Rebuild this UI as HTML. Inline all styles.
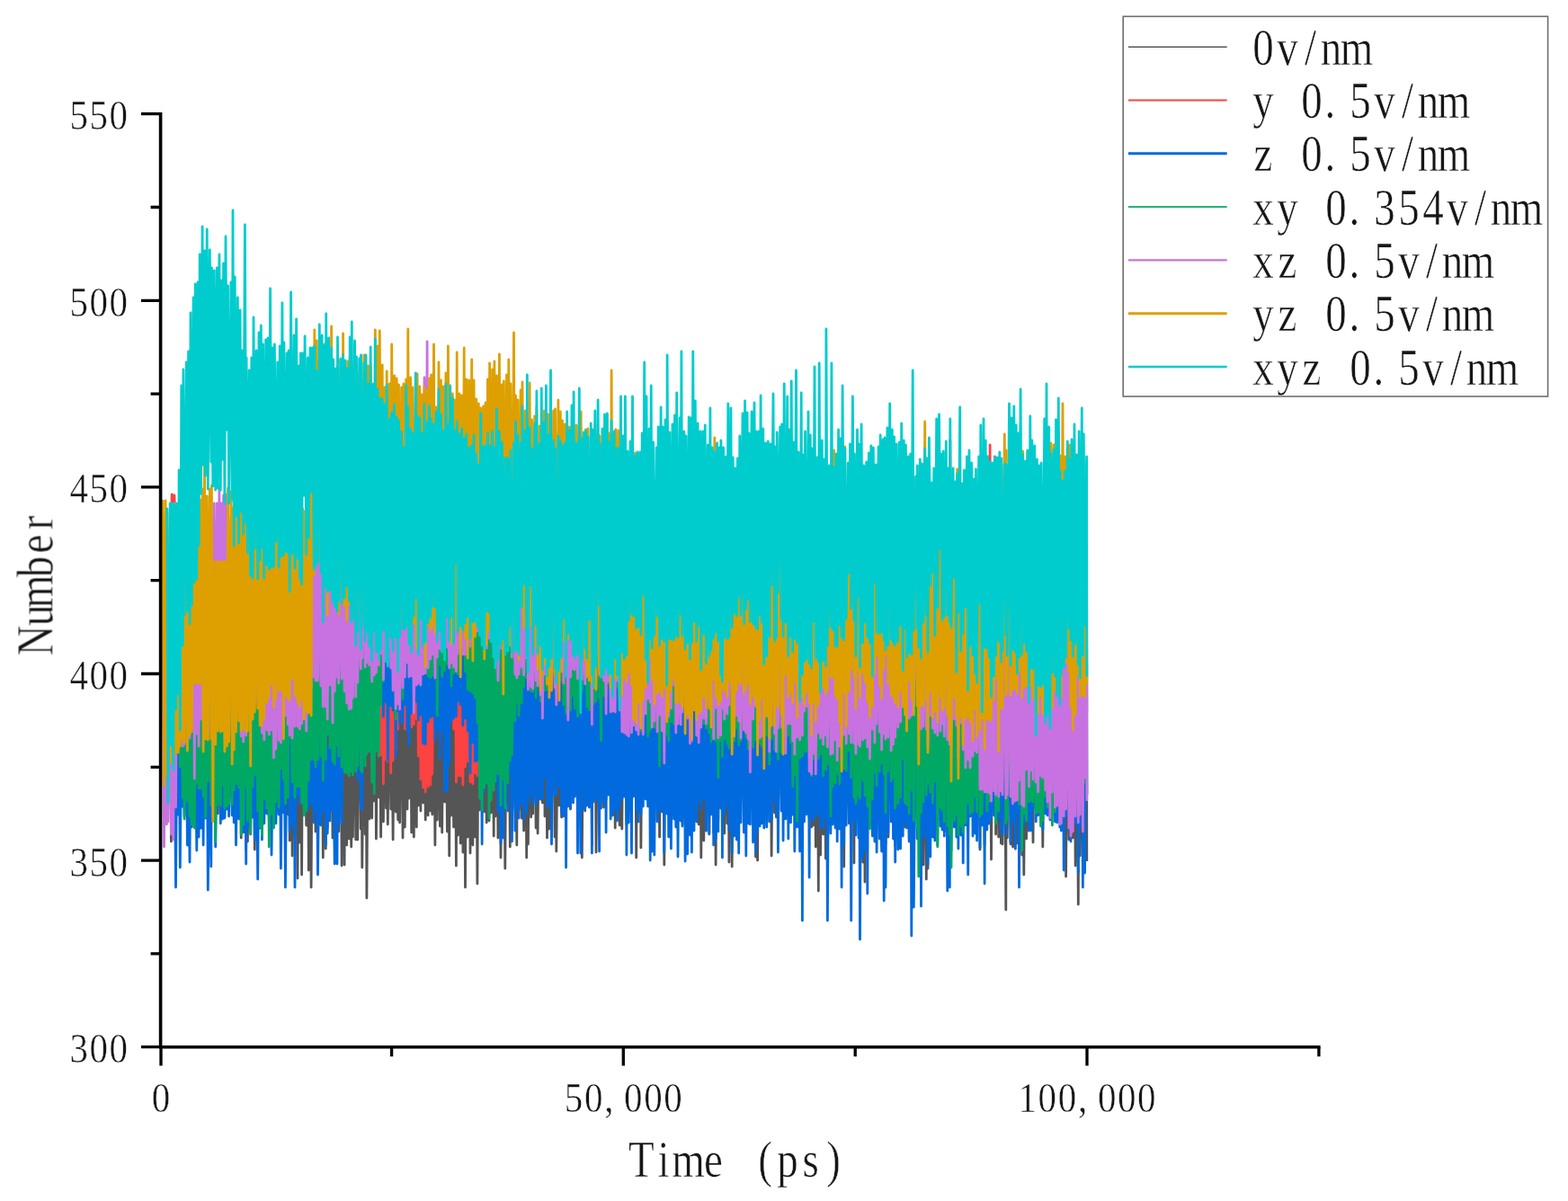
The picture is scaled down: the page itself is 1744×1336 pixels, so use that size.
<!DOCTYPE html>
<html lang="en">
<head>
<meta charset="utf-8">
<title>Number vs Time (ps)</title>
<style>
html,body{margin:0;padding:0;background:#fff;}
body{width:1744px;height:1336px;overflow:hidden;}
svg{display:block;}
text{font-family:"Liberation Serif","Noto Serif CJK SC",serif;fill:#161616;white-space:pre;stroke:#fff;stroke-width:0.45px;paint-order:fill stroke;}
</style>
</head>
<body>
<svg width="1744" height="1336" viewBox="0 0 1744 1336">
<defs><filter id="soft" x="170" y="200" width="1050" height="880" filterUnits="userSpaceOnUse"><feGaussianBlur stdDeviation="0.65"/></filter><filter id="soft2" x="0" y="0" width="1744" height="1336" filterUnits="userSpaceOnUse"><feGaussianBlur stdDeviation="0.55"/></filter></defs>
<rect width="1744" height="1336" fill="#fff"/>
<g id="series" fill="none" stroke-width="2.8" stroke-linejoin="round" stroke-linecap="butt" filter="url(#soft)">
<path stroke="#555555" d="M189.2 737L190.4 936L191.2 738L192.8 910L193.9 738L195.5 906L196.9 715L198.3 895L199.1 729L200.3 888L201.8 739L203.3 882L203.9 731L205.1 878L207.3 721L208.4 877L209.6 734L211 885L212 726L213.3 877L215.1 727L216.3 920L217.2 730L218.8 877L220 731L221.1 878L222.2 735L223.6 885L225.1 737L226.1 884L227.5 742L228.6 879L230.2 727L231.3 873L233.3 746L234.8 912L235.4 749L236.8 887L238.2 756L239.7 900L241.3 748L242.3 905L243.9 740L245.3 889L246.2 729L247.5 884L248.6 730L249.9 908L251 745L252.4 896L253.5 757L254.6 892L256.9 742L258.2 897L259 740L260.2 870L261.2 739L262.5 882L264.3 730L265.6 888L267.1 732L268.2 932L269.5 728L270.7 871L272.4 746L273.7 945L274.1 740L275.4 936L277.2 742L278.7 879L279.8 724L281.1 892L282 748L283.3 945L285.1 728L286.7 887L288 730L289.1 883L290.3 734L291.4 867L292.6 740L293.8 853L295.7 751L296.8 869L298 744L299.3 863L300.6 742L302 870L303.5 737L304.5 889L305.4 740L306.9 884L308.7 745L310.1 887L311.2 742L312.4 873L313.9 742L315.4 864L315.9 728L317.4 873L319.1 744L320.2 906L321.1 741L322.2 935L323.6 748L325.1 952L327 745L328 930L329.6 748L331 977L332.2 733L333.4 937L334.4 744L335.6 973L336.8 743L338.1 895L339.1 736L340.7 918L342.3 740L343.3 968L345 737L346.1 987L347.7 737L349.2 911L349.8 723L351 925L352.3 743L353.5 918L355.3 749L356.9 917L358.1 744L359.3 954L360.9 741L362.3 944L362.7 743L364.2 921L365.6 739L367 903L368.6 719L370 932L370.7 730L372.2 930L373.5 738L375 917L375.5 749L376.7 925L378.8 738L380.1 963L381.6 746L383.1 962L384.1 747L385.7 940L386.8 740L388.3 933L389.2 746L390.7 942L391.3 748L392.4 931L394.5 746L395.7 934L396.5 736L397.8 934L399.7 733L401.3 922L401.6 735L402.8 965L404.9 734L406.1 928L406.9 729L407.9 999L409.7 736L410.8 911L412.2 738L413.7 910L415.2 739L416.2 891L417.3 733L418.4 933L420.1 739L421.3 887L422.3 751L423.6 931L425.2 748L426.4 914L427.9 738L429.5 899L430.2 739L431.3 917L433.3 741L434.7 900L435.7 741L437.1 934L438.6 736L440.2 903L441.2 740L442.7 912L443.5 739L444.6 915L446.6 729L448 932L448.9 741L450.3 920L451.7 747L453 900L453.8 743L454.9 888L456.6 728L457.7 926L458.9 734L460.3 931L462.3 739L463.3 920L464.1 729L465.3 896L466.8 736L467.9 902L469.2 739L470.6 893L472 738L473.2 912L475.1 735L476.1 907L477.6 737L478.8 902L479.6 736L480.8 906L482.5 735L483.9 940L485.1 738L486.3 912L488 736L489.4 919L490.4 730L491.7 926L493.1 728L494.6 892L495.9 731L497.4 925L498.4 740L499.7 952L500.7 741L502 907L503.3 742L504.6 920L505.9 735L507.4 963L508.2 744L509.3 929L510.9 742L512.2 938L513.6 737L514.9 948L516.2 738L517.5 987L518.8 735L520.2 931L521.7 730L523 949L524.7 738L525.9 940L527.1 743L528.5 931L529.7 746L530.9 983L532.3 752L533.6 901L534.7 740L536.1 896L537.6 732L538.7 903L540 732L541.2 915L542.4 735L544 913L544.6 730L546.2 904L547.6 739L549.2 930L549.9 745L550.9 908L552.4 738L553.9 932L555.4 735L557 954L558.3 737L559.8 910L560.4 739L561.8 966L563.5 745L564.9 892L565.8 742L567.3 942L568 738L569.4 904L571.5 749L572.9 899L573.5 742L574.8 940L576 729L577.1 901L579.1 742L580.2 910L581 745L582.6 924L584.2 735L585.7 954L586.3 737L587.4 939L589.1 726L590.6 909L591.5 732L592.7 905L594.7 737L596.1 921L596.9 731L598.1 927L600.1 739L601.2 889L602.3 745L603.4 893L605 752L606 908L607.4 745L608.5 932L609.8 747L610.9 922L612.5 748L613.5 907L615.6 730L617.1 931L617.5 742L618.8 947L620.9 742L622 896L623.3 747L624.6 909L625.5 744L626.8 900L628.3 739L629.6 890L630.7 735L631.8 897L633.3 733L634.5 900L636 729L637.5 877L638.1 730L639.3 876L641.2 730L642.5 872L644.3 731L645.8 887L646.2 739L647.3 954L649.2 731L650.7 902L651.5 734L652.8 871L653.9 737L655.4 884L657.2 733L658.4 940L658.9 730L660.2 889L661.8 733L663 948L665.1 735L666.6 882L667 730L668.5 887L670.1 729L671.5 898L672.5 732L674.1 889L675.3 742L676.7 876L677.7 748L679.2 880L680.1 741L681.6 891L683.1 744L684.2 921L684.9 743L686.5 883L687.9 747L689.2 918L690.5 737L691.8 922L693.2 746L694.3 873L695.4 743L696.9 917L698.1 736L699.3 844L701.1 743L702.5 894L703.5 748L704.6 859L706.5 744L707.7 954L708.9 727L710.1 884L711.8 747L712.9 943L714.2 746L715.3 860L716.7 738L718.2 862L719 736L720.6 877L722.1 743L723.2 876L724.2 746L725.2 916L726.6 747L727.8 902L730.1 741L731.1 866L732.2 738L733.6 931L735.1 731L736.3 866L737.4 738L738.8 962L740.1 744L741.7 894L742.1 727L743.7 879L744.9 739L746.4 897L748 737L749.5 906L750.5 709L751.8 887L752.7 720L754 888L756.1 734L757.1 895L757.9 730L758.9 909L760.8 729L762.1 917L763 722L764.6 909L766.2 737L767.5 920L768.4 734L769.4 922L770.8 731L772 914L773.3 738L774.8 914L776.1 743L777.2 917L778.7 736L779.8 954L781.6 737L782.8 935L784.2 737L785.5 924L787.3 738L788.8 928L789.9 740L791 900L792.3 740L793.7 926L794.8 739L796.1 962L797.5 740L798.8 912L800.2 734L801.6 887L801.9 741L803.4 891L804.6 737L805.7 927L807.5 727L808.8 916L809.8 720L810.9 959L812.9 731L814.2 964L815.2 737L816.6 891L817.8 733L819.4 868L820.4 731L821.7 874L822.8 734L824 890L826 734L827.4 911L828.6 738L829.8 882L831.1 732L832.2 888L833.1 734L834.4 896L836.1 738L837.6 885L839 730L840.5 953L841.1 737L842.6 957L843.9 743L845.1 876L846.1 745L847.3 883L848.8 734L849.8 900L851.5 740L852.8 885L854.3 716L855.8 872L857 739L858.1 952L860 715L861.5 904L862 738L863.4 909L864.3 740L865.4 903L867.7 723L869.1 887L869.6 729L871.1 879L872.2 738L873.8 877L875.7 743L876.8 902L878.1 728L879.5 886L880.2 733L881.7 901L882.6 737L883.8 900L885.5 738L886.7 871L888 742L889.6 929L891.2 743L892.4 862L893.3 747L894.5 856L895.6 740L897 879L899 727L900.1 910L901.3 731L902.6 920L903.4 739L904.6 918L906 742L907.3 942L909 732L910.3 991L911.2 738L912.6 951L914.3 740L915.6 928L916.9 738L918.4 955L918.9 738L920.4 939L922.3 734L923.9 892L924.9 731L926.2 885L927.6 727L929.1 870L930 714L931.2 911L932.6 739L933.8 891L934.7 734L936.1 886L937.1 725L938.7 964L939.8 733L941.2 895L943.3 740L944.4 916L945.5 739L946.7 903L948.4 734L949.9 960L950.4 711L951.9 902L953.5 734L955 879L955.4 739L956.5 908L958.1 732L959.6 959L960.8 744L962 981L963.7 738L964.8 906L966.3 732L967.5 917L968.8 733L970.4 913L971.3 736L972.9 920L974.1 732L975.1 905L977.1 730L978.3 917L979.2 736L980.6 941L982.1 736L983.2 919L984 731L985 939L986.9 731L987.9 931L989.7 724L991.2 889L992.3 739L993.5 887L994.6 741L995.7 941L997.3 741L998.8 912L1000.4 745L1001.6 896L1002.7 750L1004.2 911L1005.3 748L1006.5 920L1007.4 747L1008.5 889L1010 738L1011.2 933L1012.7 744L1013.8 885L1015.2 742L1016.3 911L1018.7 737L1020.2 888L1020.3 738L1021.8 906L1023.3 738L1024.5 940L1025.6 728L1027 962L1028.7 733L1030.3 978L1030.7 748L1032 966L1033.4 741L1034.8 911L1036 722L1037.4 921L1038.8 731L1039.8 919L1041.7 730L1042.8 884L1044.5 734L1046 896L1046.6 741L1048 895L1049.2 740L1050.3 925L1052.3 733L1053.8 913L1054.8 728L1056.3 895L1056.8 744L1058 891L1060.1 740L1061.3 894L1062.7 744L1063.8 884L1064.7 747L1065.9 874L1067.7 748L1068.8 892L1069.9 753L1071.2 892L1072.5 751L1073.9 881L1075.4 746L1076.7 919L1078 736L1079.1 904L1080.6 744L1082 881L1083.2 748L1084.7 879L1085.5 749L1086.6 898L1088.7 742L1090 945L1090.8 744L1092.3 915L1094 752L1095.1 940L1096.2 747L1097.8 895L1098.6 743L1100.2 868L1101.1 745L1102.5 956L1104 747L1105.5 901L1106.5 741L1107.6 928L1109.3 727L1110.7 931L1111.8 733L1113.4 938L1113.9 728L1115 939L1117.3 731L1118.8 1012L1119.2 731L1120.3 932L1122.5 727L1124 939L1125.1 727L1126.5 942L1127.8 730L1129.3 944L1130.2 732L1131.4 938L1132.3 739L1133.5 943L1135.1 741L1136.7 951L1137.7 737L1138.8 973L1140.5 731L1141.6 933L1142.9 725L1144.5 924L1145.8 736L1147.3 902L1147.9 722L1149 937L1150.7 730L1152.2 882L1153.4 733L1154.6 891L1155.9 730L1157.5 904L1158.2 737L1159.8 942L1161.7 750L1162.7 888L1164 741L1165 889L1166.7 740L1167.9 883L1168.9 740L1170.4 894L1172 739L1173.5 887L1174.5 746L1175.7 882L1177.3 739L1178.8 910L1179.1 736L1180.3 883L1182 737L1183.2 924L1184.5 733L1185.6 975L1187.3 707L1188.9 934L1189.6 731L1191 925L1192 736L1193.3 932L1195 737L1196.1 963L1197.7 741L1199.3 1006L1200.1 735L1201.3 952L1203.3 730L1204.4 954L1205.3 735L1206.6 914L1208.6 738L1208.8 958"/>
<path stroke="#fd4242" d="M189.2 560L190.4 587L191.2 550L192.8 590L193.9 551L195.5 589L196.9 581L198.3 626L199.1 659L200.3 754L201.8 689L203.3 809L203.9 689L205.1 806L207.3 687L208.4 825L209.6 675L211 821L212 685L213.3 807L215.1 691L216.3 805L217.2 687L218.8 798L220 684L221.1 825L222.2 682L223.6 815L225.1 683L226.1 828L227.5 684L228.6 812L230.2 686L231.3 805L233.3 684L234.8 798L235.4 667L236.8 788L238.2 679L239.7 785L241.3 673L242.3 805L243.9 678L245.3 806L246.2 682L247.5 806L248.6 688L249.9 811L251 682L252.4 808L253.5 674L254.6 798L256.9 688L258.2 790L259 683L260.2 797L261.2 661L262.5 786L264.3 680L265.6 807L267.1 687L268.2 803L269.5 690L270.7 797L272.4 682L273.7 806L274.1 683L275.4 810L277.2 683L278.7 802L279.8 678L281.1 807L282 674L283.3 799L285.1 683L286.7 812L288 677L289.1 807L290.3 684L291.4 797L292.6 687L293.8 809L295.7 694L296.8 801L298 693L299.3 808L300.6 682L302 829L303.5 682L304.5 811L305.4 661L306.9 805L308.7 679L310.1 806L311.2 678L312.4 830L313.9 680L315.4 833L315.9 672L317.4 816L319.1 669L320.2 803L321.1 669L322.2 801L323.6 676L325.1 792L327 674L328 790L329.6 680L331 801L332.2 681L333.4 804L334.4 680L335.6 799L336.8 679L338.1 801L339.1 681L340.7 801L342.3 678L343.3 790L345 675L346.1 804L347.7 682L349.2 797L349.8 676L351 806L352.3 691L353.5 791L355.3 674L356.9 801L358.1 675L359.3 830L360.9 666L362.3 806L362.7 657L364.2 789L365.6 668L367 801L368.6 680L370 810L370.7 676L372.2 799L373.5 670L375 788L375.5 679L376.7 785L378.8 680L380.1 795L381.6 679L383.1 797L384.1 679L385.7 784L386.8 681L388.3 790L389.2 678L390.7 812L391.3 670L392.4 802L394.5 676L395.7 812L396.5 679L397.8 808L399.7 683L401.3 833L401.6 679L402.8 792L404.9 685L406.1 788L406.9 664L407.9 801L409.7 672L410.8 814L412.2 679L413.7 820L415.2 681L416.2 841L417.3 680L418.4 835L420.1 672L421.3 841L422.3 674L423.6 840L425.2 676L426.4 872L427.9 674L429.5 845L430.2 674L431.3 847L433.3 673L434.7 860L435.7 658L437.1 846L438.6 683L440.2 834L441.2 679L442.7 811L443.5 676L444.6 798L446.6 681L448 804L448.9 685L450.3 811L451.7 684L453 798L453.8 684L454.9 799L456.6 683L457.7 809L458.9 684L460.3 806L462.3 684L463.3 800L464.1 683L465.3 841L466.8 677L467.9 867L469.2 675L470.6 876L472 679L473.2 881L475.1 692L476.1 875L477.6 686L478.8 873L479.6 692L480.8 861L482.5 687L483.9 816L485.1 683L486.3 807L488 679L489.4 814L490.4 657L491.7 802L493.1 689L494.6 794L495.9 677L497.4 799L498.4 679L499.7 789L500.7 678L502 786L503.3 686L504.6 811L505.9 684L507.4 870L508.2 685L509.3 863L510.9 683L512.2 863L513.6 688L514.9 873L516.2 695L517.5 853L518.8 695L520.2 847L521.7 691L523 870L524.7 683L525.9 872L527.1 689L528.5 860L529.7 690L530.9 863L532.3 689L533.6 867L534.7 690L536.1 866L537.6 665L538.7 844L540 682L541.2 801L542.4 682L544 809L544.6 686L546.2 811L547.6 685L549.2 806L549.9 679L550.9 805L552.4 687L553.9 799L555.4 675L557 799L558.3 678L559.8 810L560.4 682L561.8 799L563.5 684L564.9 799L565.8 683L567.3 792L568 680L569.4 793L571.5 683L572.9 811L573.5 685L574.8 806L576 682L577.1 812L579.1 684L580.2 818L581 676L582.6 819L584.2 682L585.7 810L586.3 685L587.4 798L589.1 676L590.6 790L591.5 685L592.7 791L594.7 683L596.1 800L596.9 685L598.1 817L600.1 685L601.2 811L602.3 682L603.4 823L605 671L606 793L607.4 678L608.5 798L609.8 681L610.9 804L612.5 678L613.5 809L615.6 678L617.1 810L617.5 678L618.8 803L620.9 681L622 799L623.3 686L624.6 876L625.5 678L626.8 822L628.3 678L629.6 816L630.7 665L631.8 803L633.3 688L634.5 808L636 692L637.5 831L638.1 690L639.3 825L641.2 668L642.5 826L644.3 676L645.8 812L646.2 668L647.3 814L649.2 677L650.7 808L651.5 683L652.8 809L653.9 682L655.4 807L657.2 667L658.4 806L658.9 667L660.2 808L661.8 681L663 808L665.1 685L666.6 797L667 684L668.5 802L670.1 685L671.5 822L672.5 673L674.1 878L675.3 678L676.7 815L677.7 671L679.2 818L680.1 693L681.6 814L683.1 693L684.2 815L684.9 687L686.5 806L687.9 680L689.2 798L690.5 683L691.8 810L693.2 690L694.3 808L695.4 681L696.9 800L698.1 678L699.3 806L701.1 677L702.5 810L703.5 681L704.6 799L706.5 685L707.7 816L708.9 688L710.1 808L711.8 684L712.9 837L714.2 693L715.3 807L716.7 676L718.2 817L719 683L720.6 806L722.1 677L723.2 798L724.2 675L725.2 805L726.6 682L727.8 811L730.1 692L731.1 808L732.2 685L733.6 825L735.1 677L736.3 842L737.4 680L738.8 830L740.1 669L741.7 833L742.1 674L743.7 812L744.9 670L746.4 824L748 676L749.5 827L750.5 692L751.8 808L752.7 694L754 791L756.1 681L757.1 795L757.9 688L758.9 807L760.8 688L762.1 802L763 684L764.6 797L766.2 687L767.5 801L768.4 687L769.4 796L770.8 679L772 876L773.3 690L774.8 876L776.1 687L777.2 812L778.7 690L779.8 807L781.6 695L782.8 801L784.2 695L785.5 804L787.3 694L788.8 800L789.9 688L791 797L792.3 685L793.7 776L794.8 686L796.1 785L797.5 666L798.8 810L800.2 671L801.6 816L801.9 683L803.4 801L804.6 682L805.7 796L807.5 671L808.8 795L809.8 685L810.9 793L812.9 683L814.2 780L815.2 686L816.6 804L817.8 693L819.4 809L820.4 694L821.7 800L822.8 688L824 809L826 688L827.4 807L828.6 686L829.8 810L831.1 695L832.2 811L833.1 696L834.4 802L836.1 691L837.6 793L839 684L840.5 799L841.1 682L842.6 794L843.9 685L845.1 795L846.1 685L847.3 799L848.8 672L849.8 789L851.5 684L852.8 793L854.3 679L855.8 798L857 673L858.1 798L860 676L861.5 804L862 678L863.4 801L864.3 682L865.4 803L867.7 681L869.1 792L869.6 680L871.1 788L872.2 669L873.8 798L875.7 685L876.8 793L878.1 679L879.5 812L880.2 660L881.7 796L882.6 687L883.8 797L885.5 694L886.7 803L888 694L889.6 797L891.2 691L892.4 794L893.3 693L894.5 793L895.6 688L897 805L899 681L900.1 807L901.3 681L902.6 796L903.4 688L904.6 801L906 685L907.3 801L909 697L910.3 798L911.2 697L912.6 807L914.3 700L915.6 804L916.9 699L918.4 796L918.9 692L920.4 797L922.3 686L923.9 808L924.9 686L926.2 804L927.6 690L929.1 797L930 697L931.2 799L932.6 695L933.8 808L934.7 684L936.1 815L937.1 682L938.7 801L939.8 679L941.2 802L943.3 692L944.4 803L945.5 676L946.7 805L948.4 693L949.9 807L950.4 699L951.9 826L953.5 698L955 798L955.4 691L956.5 809L958.1 690L959.6 809L960.8 691L962 818L963.7 686L964.8 802L966.3 686L967.5 809L968.8 698L970.4 800L971.3 702L972.9 824L974.1 693L975.1 824L977.1 690L978.3 849L979.2 691L980.6 810L982.1 686L983.2 822L984 695L985 793L986.9 692L987.9 799L989.7 672L991.2 804L992.3 678L993.5 800L994.6 679L995.7 796L997.3 674L998.8 796L1000.4 664L1001.6 805L1002.7 659L1004.2 810L1005.3 684L1006.5 814L1007.4 687L1008.5 808L1010 683L1011.2 807L1012.7 685L1013.8 819L1015.2 690L1016.3 816L1018.7 690L1020.2 802L1020.3 685L1021.8 803L1023.3 685L1024.5 805L1025.6 691L1027 815L1028.7 693L1030.3 802L1030.7 689L1032 814L1033.4 691L1034.8 821L1036 694L1037.4 815L1038.8 695L1039.8 814L1041.7 702L1042.8 826L1044.5 689L1046 814L1046.6 688L1048 816L1049.2 696L1050.3 811L1052.3 690L1053.8 828L1054.8 686L1056.3 811L1056.8 490L1058 807L1060.1 672L1061.3 802L1062.7 670L1063.8 800L1064.7 689L1065.9 808L1067.7 687L1068.8 799L1069.9 685L1071.2 813L1072.5 677L1073.9 813L1075.4 690L1076.7 815L1078 687L1079.1 829L1080.6 686L1082 806L1083.2 683L1084.7 814L1085.5 682L1086.6 810L1088.7 678L1090 817L1090.8 671L1092.3 820L1094 686L1095.1 832L1096.2 690L1097.8 817L1098.6 691L1100.2 810L1101.1 495L1102.5 818L1104 687L1105.5 825L1106.5 508L1107.6 821L1109.3 691L1110.7 810L1111.8 683L1113.4 814L1113.9 694L1115 807L1117.3 693L1118.8 816L1119.2 686L1120.3 817L1122.5 686L1124 833L1125.1 680L1126.5 826L1127.8 675L1129.3 822L1130.2 673L1131.4 816L1132.3 685L1133.5 830L1135.1 687L1136.7 825L1137.7 687L1138.8 815L1140.5 678L1141.6 798L1142.9 674L1144.5 825L1145.8 674L1147.3 800L1147.9 685L1149 808L1150.7 686L1152.2 805L1153.4 666L1154.6 819L1155.9 683L1157.5 816L1158.2 691L1159.8 812L1161.7 696L1162.7 808L1164 687L1165 793L1166.7 682L1167.9 805L1168.9 688L1170.4 809L1172 663L1173.5 803L1174.5 688L1175.7 819L1177.3 682L1178.8 814L1179.1 679L1180.3 793L1182 687L1183.2 785L1184.5 684L1185.6 788L1187.3 686L1188.9 804L1189.6 680L1191 810L1192 677L1193.3 807L1195 678L1196.1 821L1197.7 673L1199.3 825L1200.1 675L1201.3 803L1203.3 687L1204.4 804L1205.3 679L1206.6 798L1208.6 693L1208.8 792"/>
<path stroke="#056ade" d="M189.2 799L190.4 904L191.2 802L192.8 933L193.9 794L195.5 987L196.9 797L198.3 906L199.1 802L200.3 965L201.8 806L203.3 897L203.9 809L205.1 908L207.3 801L208.4 940L209.6 807L211 959L212 809L213.3 920L215.1 806L216.3 916L217.2 812L218.8 946L220 818L221.1 931L222.2 798L223.6 921L225.1 776L226.1 940L227.5 794L228.6 910L230.2 807L231.3 990L233.3 801L234.8 964L235.4 810L236.8 895L238.2 806L239.7 942L241.3 794L242.3 896L243.9 795L245.3 916L246.2 795L247.5 911L248.6 786L249.9 910L251 783L252.4 900L253.5 783L254.6 908L256.9 794L258.2 907L259 779L260.2 915L261.2 792L262.5 940L264.3 798L265.6 911L267.1 788L268.2 909L269.5 795L270.7 926L272.4 795L273.7 961L274.1 790L275.4 921L277.2 792L278.7 928L279.8 785L281.1 909L282 802L283.3 935L285.1 807L286.7 978L288 813L289.1 921L290.3 792L291.4 934L292.6 800L293.8 916L295.7 810L296.8 905L298 794L299.3 912L300.6 811L302 951L303.5 823L304.5 914L305.4 828L306.9 916L308.7 823L310.1 906L311.2 808L312.4 966L313.9 792L315.4 904L315.9 782L317.4 987L319.1 809L320.2 886L321.1 777L322.2 925L323.6 812L325.1 918L327 818L328 987L329.6 810L331 885L332.2 802L333.4 894L334.4 799L335.6 891L336.8 805L338.1 897L339.1 774L340.7 903L342.3 817L343.3 899L345 814L346.1 894L347.7 806L349.2 915L349.8 802L351 900L352.3 818L353.5 973L355.3 810L356.9 918L358.1 803L359.3 902L360.9 807L362.3 940L362.7 814L364.2 927L365.6 830L367 913L368.6 811L370 902L370.7 829L372.2 961L373.5 835L375 961L375.5 825L376.7 914L378.8 820L380.1 917L381.6 751L383.1 858L384.1 709L385.7 817L386.8 703L388.3 786L389.2 692L390.7 790L391.3 646L392.4 777L394.5 688L395.7 801L396.5 670L397.8 868L399.7 651L401.3 900L401.6 652L402.8 900L404.9 633L406.1 813L406.9 670L407.9 798L409.7 693L410.8 770L412.2 688L413.7 781L415.2 678L416.2 785L417.3 697L418.4 784L420.1 674L421.3 802L422.3 685L423.6 776L425.2 685L426.4 797L427.9 678L429.5 781L430.2 667L431.3 846L433.3 672L434.7 785L435.7 674L437.1 790L438.6 675L440.2 842L441.2 678L442.7 791L443.5 685L444.6 805L446.6 687L448 805L448.9 689L450.3 784L451.7 645L453 813L453.8 671L454.9 829L456.6 663L457.7 793L458.9 665L460.3 785L462.3 618L463.3 780L464.1 663L465.3 801L466.8 678L467.9 795L469.2 675L470.6 827L472 688L473.2 828L475.1 678L476.1 803L477.6 688L478.8 798L479.6 676L480.8 797L482.5 667L483.9 823L485.1 666L486.3 812L488 669L489.4 844L490.4 664L491.7 813L493.1 665L494.6 880L495.9 641L497.4 880L498.4 661L499.7 850L500.7 655L502 803L503.3 666L504.6 799L505.9 666L507.4 797L508.2 667L509.3 780L510.9 681L512.2 784L513.6 672L514.9 807L516.2 684L517.5 799L518.8 642L520.2 813L521.7 675L523 860L524.7 660L525.9 826L527.1 677L528.5 847L529.7 672L530.9 846L532.3 690L533.6 876L534.7 692L536.1 939L537.6 677L538.7 880L540 702L541.2 865L542.4 699L544 865L544.6 702L546.2 880L547.6 699L549.2 867L549.9 694L550.9 867L552.4 688L553.9 903L555.4 690L557 938L558.3 691L559.8 932L560.4 702L561.8 871L563.5 706L564.9 902L565.8 692L567.3 860L568 699L569.4 936L571.5 701L572.9 924L573.5 693L574.8 900L576 673L577.1 910L579.1 682L580.2 894L581 688L582.6 912L584.2 696L585.7 904L586.3 690L587.4 893L589.1 656L590.6 886L591.5 694L592.7 895L594.7 695L596.1 895L596.9 702L598.1 889L600.1 701L601.2 889L602.3 700L603.4 888L605 704L606 865L607.4 713L608.5 898L609.8 706L610.9 896L612.5 705L613.5 939L615.6 700L617.1 884L617.5 692L618.8 884L620.9 666L622 875L623.3 707L624.6 905L625.5 706L626.8 908L628.3 700L629.6 965L630.7 695L631.8 896L633.3 688L634.5 899L636 696L637.5 893L638.1 711L639.3 886L641.2 704L642.5 949L644.3 702L645.8 949L646.2 713L647.3 902L649.2 710L650.7 900L651.5 705L652.8 896L653.9 699L655.4 898L657.2 691L658.4 949L658.9 722L660.2 892L661.8 715L663 890L665.1 713L666.6 947L667 705L668.5 899L670.1 682L671.5 892L672.5 684L674.1 926L675.3 700L676.7 884L677.7 664L679.2 911L680.1 707L681.6 907L683.1 701L684.2 901L684.9 696L686.5 913L687.9 694L689.2 900L690.5 653L691.8 889L693.2 691L694.3 886L695.4 689L696.9 951L698.1 694L699.3 915L701.1 699L702.5 949L703.5 699L704.6 886L706.5 700L707.7 901L708.9 695L710.1 914L711.8 699L712.9 905L714.2 709L715.3 897L716.7 711L718.2 889L719 694L720.6 897L722.1 697L723.2 957L724.2 695L725.2 947L726.6 677L727.8 951L730.1 643L731.1 914L732.2 679L733.6 901L735.1 694L736.3 903L737.4 707L738.8 948L740.1 702L741.7 905L742.1 702L743.7 931L744.9 703L746.4 944L748 677L749.5 911L750.5 697L751.8 920L752.7 661L754 953L756.1 687L757.1 913L757.9 666L758.9 919L760.8 692L762.1 958L763 690L764.6 950L766.2 697L767.5 929L768.4 709L769.4 948L770.8 710L772 924L773.3 705L774.8 913L776.1 654L777.2 892L778.7 696L779.8 901L781.6 697L782.8 889L784.2 694L785.5 924L787.3 698L788.8 927L789.9 688L791 906L792.3 696L793.7 940L794.8 694L796.1 933L797.5 681L798.8 925L800.2 698L801.6 899L801.9 653L803.4 954L804.6 684L805.7 905L807.5 659L808.8 897L809.8 689L810.9 923L812.9 703L814.2 949L815.2 692L816.6 930L817.8 701L819.4 934L820.4 710L821.7 949L822.8 715L824 915L826 705L827.4 926L828.6 698L829.8 952L831.1 692L832.2 916L833.1 713L834.4 917L836.1 707L837.6 937L839 699L840.5 949L841.1 708L842.6 926L843.9 695L845.1 919L846.1 704L847.3 916L848.8 685L849.8 921L851.5 688L852.8 920L854.3 700L855.8 914L857 699L858.1 911L860 702L861.5 892L862 701L863.4 906L864.3 705L865.4 948L867.7 702L869.1 902L869.6 648L871.1 935L872.2 687L873.8 911L875.7 691L876.8 933L878.1 696L879.5 915L880.2 700L881.7 906L882.6 689L883.8 947L885.5 693L886.7 920L888 699L889.6 947L891.2 717L892.4 1024L893.3 719L894.5 914L895.6 718L897 906L899 685L900.1 976L901.3 713L902.6 909L903.4 700L904.6 913L906 699L907.3 908L909 708L910.3 906L911.2 705L912.6 922L914.3 689L915.6 920L916.9 692L918.4 911L918.9 701L920.4 1024L922.3 691L923.9 927L924.9 704L926.2 917L927.6 709L929.1 921L930 709L931.2 936L932.6 701L933.8 922L934.7 700L936.1 987L937.1 709L938.7 939L939.8 700L941.2 918L943.3 699L944.4 915L945.5 686L946.7 1024L948.4 698L949.9 913L950.4 689L951.9 929L953.5 702L955 932L955.4 718L956.5 1045L958.1 711L959.6 954L960.8 704L962 945L963.7 700L964.8 994L966.3 698L967.5 919L968.8 710L970.4 930L971.3 712L972.9 936L974.1 713L975.1 948L977.1 705L978.3 933L979.2 698L980.6 947L982.1 690L983.2 1002L984 692L985 987L986.9 694L987.9 927L989.7 705L991.2 914L992.3 691L993.5 933L994.6 637L995.7 959L997.3 683L998.8 945L1000.4 698L1001.6 944L1002.7 699L1004.2 930L1005.3 686L1006.5 913L1007.4 692L1008.5 921L1010 702L1011.2 936L1012.7 698L1013.8 1041L1015.2 691L1016.3 1009L1018.7 710L1020.2 933L1020.3 708L1021.8 920L1023.3 703L1024.5 1008L1025.6 686L1027 930L1028.7 706L1030.3 933L1030.7 710L1032 962L1033.4 716L1034.8 953L1036 716L1037.4 931L1038.8 705L1039.8 935L1041.7 702L1042.8 940L1044.5 707L1046 919L1046.6 727L1048 923L1049.2 693L1050.3 930L1052.3 718L1053.8 991L1054.8 711L1056.3 987L1056.8 689L1058 946L1060.1 689L1061.3 920L1062.7 712L1063.8 931L1064.7 710L1065.9 944L1067.7 701L1068.8 929L1069.9 689L1071.2 960L1072.5 713L1073.9 918L1075.4 723L1076.7 973L1078 708L1079.1 908L1080.6 700L1082 930L1083.2 709L1084.7 927L1085.5 717L1086.6 935L1088.7 713L1090 943L1090.8 713L1092.3 918L1094 697L1095.1 983L1096.2 698L1097.8 923L1098.6 705L1100.2 916L1101.1 704L1102.5 910L1104 709L1105.5 907L1106.5 682L1107.6 898L1109.3 714L1110.7 911L1111.8 684L1113.4 924L1113.9 693L1115 930L1117.3 723L1118.8 927L1119.2 708L1120.3 909L1122.5 715L1124 937L1125.1 718L1126.5 915L1127.8 724L1129.3 944L1130.2 733L1131.4 903L1132.3 677L1133.5 987L1135.1 716L1136.7 923L1137.7 684L1138.8 918L1140.5 707L1141.6 912L1142.9 701L1144.5 924L1145.8 713L1147.3 924L1147.9 706L1149 900L1150.7 698L1152.2 914L1153.4 698L1154.6 907L1155.9 707L1157.5 902L1158.2 713L1159.8 923L1161.7 693L1162.7 905L1164 687L1165 907L1166.7 698L1167.9 912L1168.9 701L1170.4 897L1172 700L1173.5 914L1174.5 702L1175.7 915L1177.3 693L1178.8 920L1179.1 693L1180.3 924L1182 680L1183.2 968L1184.5 675L1185.6 908L1187.3 685L1188.9 924L1189.6 681L1191 936L1192 676L1193.3 914L1195 677L1196.1 916L1197.7 683L1199.3 971L1200.1 685L1201.3 919L1203.3 688L1204.4 987L1205.3 697L1206.6 971L1208.6 699L1208.8 884"/>
<path stroke="#06a964" d="M199.1 773L200.3 853L201.8 782L203.3 887L203.9 782L205.1 911L207.3 771L208.4 891L209.6 780L211 908L212 773L213.3 917L215.1 782L216.3 921L217.2 796L218.8 871L220 745L221.1 877L222.2 793L223.6 877L225.1 752L226.1 886L227.5 787L228.6 909L230.2 785L231.3 869L233.3 786L234.8 896L235.4 785L236.8 908L238.2 772L239.7 936L241.3 768L242.3 895L243.9 775L245.3 896L246.2 768L247.5 873L248.6 759L249.9 899L251 734L252.4 897L253.5 761L254.6 894L256.9 742L258.2 895L259 759L260.2 879L261.2 759L262.5 872L264.3 766L265.6 876L267.1 782L268.2 928L269.5 774L270.7 917L272.4 778L273.7 874L274.1 776L275.4 913L277.2 775L278.7 927L279.8 770L281.1 875L282 778L283.3 862L285.1 758L286.7 902L288 747L289.1 920L290.3 761L291.4 929L292.6 777L293.8 889L295.7 770L296.8 899L298 771L299.3 942L300.6 763L302 905L303.5 758L304.5 921L305.4 779L306.9 892L308.7 743L310.1 898L311.2 765L312.4 855L313.9 787L315.4 867L315.9 778L317.4 894L319.1 767L320.2 887L321.1 779L322.2 821L323.6 773L325.1 870L327 790L328 887L329.6 777L331 875L332.2 767L333.4 875L334.4 777L335.6 893L336.8 785L338.1 907L339.1 771L340.7 902L342.3 714L343.3 868L345 703L346.1 845L347.7 705L349.2 845L349.8 702L351 853L352.3 697L353.5 845L355.3 691L356.9 841L358.1 691L359.3 868L360.9 680L362.3 845L362.7 695L364.2 817L365.6 701L367 832L368.6 696L370 847L370.7 706L372.2 850L373.5 688L375 829L375.5 700L376.7 841L378.8 693L380.1 853L381.6 690L383.1 859L384.1 692L385.7 860L386.8 690L388.3 863L389.2 709L390.7 858L391.3 699L392.4 862L394.5 670L395.7 858L396.5 691L397.8 852L399.7 689L401.3 857L401.6 683L402.8 859L404.9 688L406.1 852L406.9 691L407.9 839L409.7 696L410.8 836L412.2 697L413.7 870L415.2 678L416.2 883L417.3 687L418.4 835L420.1 672L421.3 841L422.3 638L423.6 784L425.2 643L426.4 758L427.9 646L429.5 724L430.2 647L431.3 729L433.3 660L434.7 733L435.7 661L437.1 748L438.6 669L440.2 800L441.2 661L442.7 711L443.5 680L444.6 739L446.6 655L448 778L448.9 672L450.3 749L451.7 677L453 705L453.8 635L454.9 709L456.6 667L457.7 746L458.9 669L460.3 732L462.3 666L463.3 738L464.1 655L465.3 749L466.8 648L467.9 749L469.2 636L470.6 737L472 661L473.2 730L475.1 658L476.1 752L477.6 667L478.8 754L479.6 665L480.8 751L482.5 652L483.9 738L485.1 609L486.3 796L488 643L489.4 739L490.4 652L491.7 753L493.1 643L494.6 746L495.9 640L497.4 739L498.4 643L499.7 739L500.7 657L502 763L503.3 653L504.6 749L505.9 618L507.4 731L508.2 655L509.3 750L510.9 665L512.2 741L513.6 664L514.9 719L516.2 655L517.5 747L518.8 665L520.2 767L521.7 672L523 769L524.7 668L525.9 771L527.1 663L528.5 776L529.7 676L530.9 804L532.3 675L533.6 888L534.7 683L536.1 901L537.6 675L538.7 876L540 672L541.2 871L542.4 667L544 910L544.6 681L546.2 890L547.6 659L549.2 879L549.9 685L550.9 869L552.4 692L553.9 861L555.4 657L557 896L558.3 676L559.8 867L560.4 685L561.8 899L563.5 660L564.9 871L565.8 686L567.3 846L568 670L569.4 840L571.5 668L572.9 802L573.5 672L574.8 782L576 638L577.1 796L579.1 669L580.2 782L581 641L582.6 764L584.2 682L585.7 754L586.3 672L587.4 753L589.1 656L590.6 769L591.5 658L592.7 769L594.7 674L596.1 776L596.9 667L598.1 745L600.1 657L601.2 780L602.3 633L603.4 791L605 671L606 768L607.4 679L608.5 767L609.8 681L610.9 763L612.5 679L613.5 757L615.6 668L617.1 760L617.5 654L618.8 765L620.9 671L622 759L623.3 650L624.6 757L625.5 665L626.8 784L628.3 658L629.6 793L630.7 641L631.8 795L633.3 643L634.5 790L636 648L637.5 774L638.1 661L639.3 788L641.2 677L642.5 797L644.3 676L645.8 779L646.2 668L647.3 770L649.2 654L650.7 760L651.5 659L652.8 786L653.9 670L655.4 790L657.2 674L658.4 770L658.9 686L660.2 783L661.8 677L663 780L665.1 677L666.6 776L667 670L668.5 824L670.1 670L671.5 774L672.5 657L674.1 753L675.3 679L676.7 760L677.7 693L679.2 779L680.1 658L681.6 777L683.1 668L684.2 761L684.9 662L686.5 765L687.9 632L689.2 736L690.5 667L691.8 774L693.2 676L694.3 789L695.4 672L696.9 786L698.1 668L699.3 795L701.1 661L702.5 806L703.5 675L704.6 800L706.5 662L707.7 811L708.9 669L710.1 790L711.8 669L712.9 813L714.2 655L715.3 797L716.7 653L718.2 788L719 659L720.6 819L722.1 657L723.2 812L724.2 623L725.2 807L726.6 666L727.8 809L730.1 666L731.1 813L732.2 664L733.6 852L735.1 672L736.3 799L737.4 672L738.8 809L740.1 660L741.7 817L742.1 667L743.7 824L744.9 666L746.4 803L748 668L749.5 805L750.5 667L751.8 804L752.7 660L754 799L756.1 680L757.1 795L757.9 672L758.9 791L760.8 669L762.1 776L763 672L764.6 751L766.2 660L767.5 768L768.4 656L769.4 797L770.8 673L772 768L773.3 679L774.8 756L776.1 679L777.2 759L778.7 676L779.8 777L781.6 676L782.8 805L784.2 668L785.5 810L787.3 679L788.8 815L789.9 672L791 825L792.3 678L793.7 818L794.8 675L796.1 824L797.5 653L798.8 865L800.2 670L801.6 824L801.9 676L803.4 842L804.6 686L805.7 822L807.5 685L808.8 827L809.8 668L810.9 832L812.9 663L814.2 832L815.2 665L816.6 824L817.8 671L819.4 810L820.4 670L821.7 829L822.8 663L824 824L826 676L827.4 806L828.6 677L829.8 820L831.1 675L832.2 833L833.1 653L834.4 830L836.1 668L837.6 831L839 670L840.5 823L841.1 673L842.6 817L843.9 668L845.1 827L846.1 690L847.3 830L848.8 684L849.8 841L851.5 629L852.8 818L854.3 661L855.8 850L857 675L858.1 822L860 676L861.5 834L862 670L863.4 836L864.3 662L865.4 845L867.7 670L869.1 837L869.6 670L871.1 818L872.2 674L873.8 808L875.7 666L876.8 818L878.1 655L879.5 826L880.2 667L881.7 875L882.6 652L883.8 862L885.5 662L886.7 913L888 664L889.6 843L891.2 668L892.4 841L893.3 677L894.5 836L895.6 659L897 836L899 669L900.1 843L901.3 673L902.6 863L903.4 669L904.6 844L906 659L907.3 817L909 667L910.3 844L911.2 667L912.6 839L914.3 665L915.6 863L916.9 648L918.4 856L918.9 628L920.4 850L922.3 671L923.9 908L924.9 664L926.2 875L927.6 663L929.1 871L930 657L931.2 861L932.6 656L933.8 872L934.7 665L936.1 844L937.1 671L938.7 855L939.8 666L941.2 857L943.3 654L944.4 835L945.5 666L946.7 865L948.4 672L949.9 887L950.4 674L951.9 894L953.5 673L955 885L955.4 659L956.5 888L958.1 680L959.6 868L960.8 685L962 885L963.7 684L964.8 897L966.3 647L967.5 922L968.8 688L970.4 889L971.3 688L972.9 859L974.1 688L975.1 874L977.1 663L978.3 858L979.2 682L980.6 849L982.1 685L983.2 861L984 678L985 904L986.9 669L987.9 858L989.7 684L991.2 869L992.3 674L993.5 865L994.6 645L995.7 899L997.3 671L998.8 894L1000.4 676L1001.6 887L1002.7 683L1004.2 844L1005.3 669L1006.5 893L1007.4 671L1008.5 895L1010 680L1011.2 905L1012.7 664L1013.8 879L1015.2 664L1016.3 913L1018.7 648L1020.2 921L1020.3 648L1021.8 975L1023.3 667L1024.5 904L1025.6 663L1027 892L1028.7 650L1030.3 884L1030.7 660L1032 872L1033.4 667L1034.8 881L1036 682L1037.4 893L1038.8 684L1039.8 869L1041.7 674L1042.8 942L1044.5 685L1046 898L1046.6 699L1048 901L1049.2 668L1050.3 914L1052.3 665L1053.8 919L1054.8 672L1056.3 928L1056.8 681L1058 965L1060.1 685L1061.3 913L1062.7 671L1063.8 906L1064.7 679L1065.9 929L1067.7 675L1068.8 919L1069.9 677L1071.2 926L1072.5 689L1073.9 915L1075.4 656L1076.7 893L1078 686L1079.1 905L1080.6 684L1082 903L1083.2 684L1084.7 886L1085.5 686L1086.6 903L1088.7 689L1090 908L1090.8 687L1092.3 905L1094 677L1095.1 877L1096.2 683L1097.8 902L1098.6 672L1100.2 892L1101.1 688L1102.5 866L1104 687L1105.5 864L1106.5 676L1107.6 916L1109.3 675L1110.7 902L1111.8 678L1113.4 870L1113.9 647L1115 868L1117.3 697L1118.8 916L1119.2 679L1120.3 912L1122.5 720L1124 873L1125.1 714L1126.5 892L1127.8 705L1129.3 878L1130.2 690L1131.4 865L1132.3 679L1133.5 895L1135.1 656L1136.7 946L1137.7 671L1138.8 905L1140.5 677L1141.6 913L1142.9 646L1144.5 892L1145.8 688L1147.3 891L1147.9 669L1149 892L1150.7 693L1152.2 904L1153.4 693L1154.6 903L1155.9 673L1157.5 919L1158.2 692L1159.8 913L1161.7 685L1162.7 886L1164 662L1165 898L1166.7 701L1167.9 891L1168.9 698L1170.4 918L1172 680L1173.5 903L1174.5 688L1175.7 893L1177.3 704L1178.8 848L1179.1 702L1180.3 896L1182 699L1183.2 902L1184.5 661L1185.6 878L1187.3 684L1188.9 891L1189.6 672L1191 915L1192 684L1193.3 868L1195 683L1196.1 878L1197.7 693L1199.3 870L1200.1 641L1201.3 855L1203.3 685L1204.4 873L1205.3 689L1206.6 870L1208.6 687L1208.8 884"/>
<path stroke="#c872e1" d="M181 661L182.5 942L184.1 682L185.3 917L185.8 697L187 914L189.2 708L190.4 928L191.2 706L192.8 934L193.9 710L195.5 898L196.9 706L198.3 806L199.1 679L200.3 824L201.8 675L203.3 830L203.9 675L205.1 828L207.3 650L208.4 804L209.6 652L211 821L212 644L213.3 810L215.1 642L216.3 866L217.2 619L218.8 816L220 617L221.1 830L222.2 597L223.6 800L225.1 589L226.1 796L227.5 600L228.6 802L230.2 592L231.3 822L233.3 585L234.8 814L235.4 579L236.8 809L238.2 560L239.7 810L241.3 560L242.3 810L243.9 541L245.3 787L246.2 560L247.5 809L248.6 551L249.9 815L251 550L252.4 813L253.5 561L254.6 816L256.9 577L258.2 816L259 600L260.2 799L261.2 606L262.5 780L264.3 598L265.6 771L267.1 555L268.2 819L269.5 565L270.7 825L272.4 605L273.7 818L274.1 589L275.4 789L277.2 599L278.7 790L279.8 590L281.1 787L282 598L283.3 783L285.1 393L286.7 780L288 590L289.1 778L290.3 595L291.4 815L292.6 607L293.8 823L295.7 611L296.8 812L298 613L299.3 817L300.6 613L302 812L303.5 610L304.5 843L305.4 621L306.9 833L308.7 606L310.1 823L311.2 627L312.4 826L313.9 627L315.4 813L315.9 613L317.4 796L319.1 630L320.2 806L321.1 634L322.2 818L323.6 633L325.1 821L327 587L328 808L329.6 636L331 808L332.2 625L333.4 811L334.4 617L335.6 805L336.8 617L338.1 784L339.1 623L340.7 813L342.3 618L343.3 780L345 616L346.1 765L347.7 627L349.2 753L349.8 634L351 757L352.3 624L353.5 757L355.3 598L356.9 763L358.1 599L359.3 786L360.9 603L362.3 786L362.7 602L364.2 800L365.6 612L367 762L368.6 629L370 804L370.7 620L372.2 769L373.5 608L375 753L375.5 623L376.7 760L378.8 623L380.1 755L381.6 602L383.1 769L384.1 609L385.7 782L386.8 619L388.3 789L389.2 620L390.7 788L391.3 595L392.4 776L394.5 614L395.7 775L396.5 638L397.8 759L399.7 641L401.3 744L401.6 620L402.8 732L404.9 624L406.1 742L406.9 627L407.9 737L409.7 622L410.8 740L412.2 610L413.7 758L415.2 642L416.2 751L417.3 640L418.4 748L420.1 639L421.3 740L422.3 632L423.6 727L425.2 633L426.4 756L427.9 637L429.5 720L430.2 607L431.3 739L433.3 618L434.7 743L435.7 624L437.1 768L438.6 630L440.2 788L441.2 638L442.7 783L443.5 632L444.6 789L446.6 608L448 765L448.9 619L450.3 753L451.7 620L453 737L453.8 624L454.9 753L456.6 644L457.7 752L458.9 633L460.3 793L462.3 632L463.3 762L464.1 625L465.3 760L466.8 642L467.9 762L469.2 644L470.6 750L472 420L473.2 749L475.1 380L476.1 743L477.6 647L478.8 733L479.6 635L480.8 728L482.5 630L483.9 754L485.1 632L486.3 731L488 648L489.4 722L490.4 643L491.7 725L493.1 633L494.6 688L495.9 640L497.4 720L498.4 663L499.7 743L500.7 655L502 737L503.3 653L504.6 742L505.9 608L507.4 747L508.2 646L509.3 727L510.9 640L512.2 719L513.6 641L514.9 728L516.2 639L517.5 728L518.8 633L520.2 699L521.7 663L523 719L524.7 652L525.9 703L527.1 654L528.5 698L529.7 627L530.9 702L532.3 647L533.6 688L534.7 657L536.1 686L537.6 658L538.7 703L540 657L541.2 721L542.4 648L544 710L544.6 659L546.2 709L547.6 629L549.2 731L549.9 664L550.9 718L552.4 663L553.9 757L555.4 662L557 721L558.3 662L559.8 703L560.4 669L561.8 707L563.5 618L564.9 681L565.8 620L567.3 693L568 654L569.4 731L571.5 639L572.9 750L573.5 648L574.8 754L576 654L577.1 750L579.1 655L580.2 742L581 641L582.6 751L584.2 653L585.7 732L586.3 677L587.4 767L589.1 671L590.6 764L591.5 656L592.7 766L594.7 657L596.1 757L596.9 646L598.1 763L600.1 634L601.2 773L602.3 633L603.4 799L605 642L606 750L607.4 659L608.5 752L609.8 666L610.9 754L612.5 635L613.5 756L615.6 660L617.1 765L617.5 655L618.8 784L620.9 655L622 712L623.3 653L624.6 733L625.5 659L626.8 760L628.3 656L629.6 746L630.7 661L631.8 801L633.3 653L634.5 753L636 658L637.5 744L638.1 672L639.3 745L641.2 669L642.5 755L644.3 687L645.8 741L646.2 668L647.3 756L649.2 672L650.7 761L651.5 674L652.8 753L653.9 663L655.4 756L657.2 642L658.4 806L658.9 634L660.2 748L661.8 637L663 727L665.1 663L666.6 751L667 645L668.5 753L670.1 651L671.5 757L672.5 622L674.1 794L675.3 667L676.7 758L677.7 654L679.2 792L680.1 598L681.6 791L683.1 648L684.2 792L684.9 478L686.5 757L687.9 648L689.2 790L690.5 629L691.8 814L693.2 630L694.3 815L695.4 627L696.9 817L698.1 652L699.3 819L701.1 665L702.5 815L703.5 634L704.6 807L706.5 642L707.7 812L708.9 656L710.1 817L711.8 653L712.9 808L714.2 655L715.3 817L716.7 655L718.2 794L719 656L720.6 777L722.1 668L723.2 781L724.2 648L725.2 809L726.6 651L727.8 802L730.1 654L731.1 814L732.2 648L733.6 795L735.1 663L736.3 813L737.4 665L738.8 849L740.1 633L741.7 799L742.1 667L743.7 797L744.9 658L746.4 788L748 655L749.5 762L750.5 661L751.8 815L752.7 663L754 805L756.1 666L757.1 806L757.9 677L758.9 792L760.8 662L762.1 775L763 677L764.6 799L766.2 646L767.5 827L768.4 643L769.4 824L770.8 632L772 770L773.3 652L774.8 818L776.1 657L777.2 826L778.7 673L779.8 809L781.6 645L782.8 799L784.2 647L785.5 805L787.3 655L788.8 785L789.9 628L791 789L792.3 627L793.7 822L794.8 650L796.1 787L797.5 626L798.8 821L800.2 638L801.6 818L801.9 636L803.4 788L804.6 643L805.7 800L807.5 651L808.8 794L809.8 654L810.9 784L812.9 647L814.2 768L815.2 655L816.6 796L817.8 648L819.4 796L820.4 657L821.7 802L822.8 630L824 821L826 655L827.4 812L828.6 653L829.8 815L831.1 657L832.2 822L833.1 660L834.4 859L836.1 633L837.6 800L839 644L840.5 786L841.1 639L842.6 795L843.9 642L845.1 821L846.1 649L847.3 819L848.8 647L849.8 799L851.5 663L852.8 797L854.3 651L855.8 836L857 661L858.1 807L860 632L861.5 816L862 642L863.4 836L864.3 670L865.4 810L867.7 677L869.1 809L869.6 653L871.1 779L872.2 650L873.8 838L875.7 667L876.8 805L878.1 632L879.5 805L880.2 655L881.7 824L882.6 636L883.8 839L885.5 630L886.7 820L888 653L889.6 823L891.2 657L892.4 818L893.3 669L894.5 791L895.6 660L897 786L899 620L900.1 858L901.3 650L902.6 861L903.4 651L904.6 838L906 618L907.3 861L909 649L910.3 815L911.2 644L912.6 821L914.3 652L915.6 828L916.9 642L918.4 818L918.9 648L920.4 831L922.3 651L923.9 839L924.9 648L926.2 838L927.6 636L929.1 823L930 630L931.2 846L932.6 655L933.8 830L934.7 663L936.1 821L937.1 661L938.7 817L939.8 656L941.2 827L943.3 664L944.4 816L945.5 631L946.7 826L948.4 675L949.9 827L950.4 631L951.9 838L953.5 655L955 828L955.4 655L956.5 830L958.1 643L959.6 823L960.8 649L962 821L963.7 647L964.8 831L966.3 650L967.5 844L968.8 662L970.4 811L971.3 659L972.9 826L974.1 627L975.1 805L977.1 652L978.3 814L979.2 655L980.6 834L982.1 662L983.2 816L984 666L985 822L986.9 660L987.9 820L989.7 671L991.2 835L992.3 679L993.5 828L994.6 662L995.7 820L997.3 669L998.8 809L1000.4 656L1001.6 803L1002.7 659L1004.2 786L1005.3 634L1006.5 776L1007.4 656L1008.5 782L1010 637L1011.2 799L1012.7 662L1013.8 796L1015.2 677L1016.3 786L1018.7 646L1020.2 779L1020.3 670L1021.8 758L1023.3 665L1024.5 811L1025.6 653L1027 808L1028.7 670L1030.3 811L1030.7 681L1032 831L1033.4 674L1034.8 796L1036 638L1037.4 810L1038.8 666L1039.8 815L1041.7 662L1042.8 818L1044.5 631L1046 813L1046.6 656L1048 805L1049.2 669L1050.3 819L1052.3 669L1053.8 823L1054.8 672L1056.3 828L1056.8 665L1058 820L1060.1 668L1061.3 800L1062.7 665L1063.8 807L1064.7 658L1065.9 844L1067.7 624L1068.8 804L1069.9 662L1071.2 834L1072.5 670L1073.9 854L1075.4 639L1076.7 845L1078 671L1079.1 854L1080.6 650L1082 841L1083.2 677L1084.7 835L1085.5 676L1086.6 837L1088.7 663L1090 878L1090.8 626L1092.3 878L1094 652L1095.1 881L1096.2 669L1097.8 881L1098.6 675L1100.2 882L1101.1 677L1102.5 891L1104 677L1105.5 880L1106.5 681L1107.6 884L1109.3 677L1110.7 886L1111.8 651L1113.4 880L1113.9 672L1115 884L1117.3 682L1118.8 888L1119.2 672L1120.3 884L1122.5 679L1124 886L1125.1 681L1126.5 894L1127.8 681L1129.3 891L1130.2 690L1131.4 890L1132.3 691L1133.5 868L1135.1 684L1136.7 895L1137.7 652L1138.8 897L1140.5 658L1141.6 856L1142.9 662L1144.5 875L1145.8 680L1147.3 857L1147.9 680L1149 867L1150.7 658L1152.2 870L1153.4 655L1154.6 881L1155.9 632L1157.5 863L1158.2 643L1159.8 865L1161.7 644L1162.7 879L1164 663L1165 892L1166.7 662L1167.9 910L1168.9 656L1170.4 881L1172 662L1173.5 898L1174.5 679L1175.7 896L1177.3 688L1178.8 917L1179.1 664L1180.3 916L1182 659L1183.2 908L1184.5 666L1185.6 900L1187.3 678L1188.9 921L1189.6 680L1191 930L1192 681L1193.3 925L1195 666L1196.1 908L1197.7 663L1199.3 915L1200.1 663L1201.3 906L1203.3 657L1204.4 925L1205.3 661L1206.6 865L1208.6 613L1208.8 891"/>
<path stroke="#dda000" d="M181 556L182.5 874L184.1 557L185.3 863L185.8 566L187 836L189.2 570L190.4 848L191.2 571L192.8 849L193.9 583L195.5 838L196.9 572L198.3 837L199.1 594L200.3 830L201.8 642L203.3 824L203.9 621L205.1 826L207.3 641L208.4 835L209.6 640L211 817L212 580L213.3 814L215.1 617L216.3 760L217.2 594L218.8 760L220 531L221.1 760L222.2 556L223.6 760L225.1 544L226.1 836L227.5 493L228.6 822L230.2 552L231.3 823L233.3 544L234.8 822L235.4 540L236.8 914L238.2 625L239.7 828L241.3 625L242.3 813L243.9 625L245.3 814L246.2 625L247.5 813L248.6 625L249.9 836L251 625L252.4 830L253.5 543L254.6 825L256.9 547L258.2 850L259 565L260.2 834L261.2 555L262.5 814L264.3 563L265.6 802L267.1 571L268.2 813L269.5 549L270.7 811L272.4 571L273.7 814L274.1 575L275.4 813L277.2 579L278.7 852L279.8 552L281.1 800L282 562L283.3 792L285.1 564L286.7 788L288 572L289.1 807L290.3 576L291.4 807L292.6 510L293.8 799L295.7 558L296.8 782L298 558L299.3 775L300.6 550L302 761L303.5 566L304.5 787L305.4 575L306.9 777L308.7 570L310.1 768L311.2 560L312.4 768L313.9 580L315.4 822L315.9 581L317.4 774L319.1 577L320.2 777L321.1 578L322.2 779L323.6 564L325.1 755L327 559L328 774L329.6 535L331 781L332.2 540L333.4 786L334.4 562L335.6 777L336.8 566L338.1 800L339.1 569L340.7 791L342.3 563L343.3 793L345 447L346.1 796L347.7 396L349.2 639L349.8 367L351 624L352.3 379L353.5 581L355.3 401L356.9 636L358.1 403L359.3 623L360.9 383L362.3 639L362.7 409L364.2 684L365.6 411L367 655L368.6 363L370 657L370.7 410L372.2 641L373.5 419L375 669L375.5 408L376.7 683L378.8 399L380.1 652L381.6 371L383.1 674L384.1 410L385.7 690L386.8 402L388.3 672L389.2 397L390.7 662L391.3 407L392.4 671L394.5 385L395.7 701L396.5 406L397.8 686L399.7 414L401.3 684L401.6 396L402.8 695L404.9 395L406.1 674L406.9 396L407.9 663L409.7 407L410.8 659L412.2 407L413.7 645L415.2 427L416.2 647L417.3 367L418.4 649L420.1 385L421.3 643L422.3 368L423.6 649L425.2 406L426.4 642L427.9 431L429.5 647L430.2 413L431.3 632L433.3 427L434.7 691L435.7 383L437.1 656L438.6 418L440.2 677L441.2 421L442.7 695L443.5 428L444.6 665L446.6 431L448 693L448.9 427L450.3 665L451.7 422L453 655L453.8 366L454.9 669L456.6 420L457.7 667L458.9 431L460.3 694L462.3 426L463.3 721L464.1 416L465.3 683L466.8 430L467.9 680L469.2 439L470.6 692L472 430L473.2 742L475.1 434L476.1 695L477.6 421L478.8 701L479.6 417L480.8 696L482.5 383L483.9 704L485.1 453L486.3 687L488 403L489.4 697L490.4 423L491.7 695L493.1 430L494.6 684L495.9 415L497.4 663L498.4 385L499.7 694L500.7 431L502 716L503.3 438L504.6 686L505.9 445L507.4 699L508.2 392L509.3 698L510.9 438L512.2 753L513.6 440L514.9 669L516.2 387L517.5 710L518.8 422L520.2 732L521.7 423L523 700L524.7 400L525.9 735L527.1 423L528.5 708L529.7 444L530.9 695L532.3 449L533.6 653L534.7 454L536.1 684L537.6 452L538.7 733L540 448L541.2 717L542.4 422L544 701L544.6 404L546.2 709L547.6 411L549.2 700L549.9 402L550.9 674L552.4 418L553.9 687L555.4 394L557 709L558.3 428L559.8 772L560.4 424L561.8 704L563.5 417L564.9 717L565.8 400L567.3 718L568 427L569.4 726L571.5 370L572.9 696L573.5 440L574.8 692L576 445L577.1 734L579.1 434L580.2 675L581 425L582.6 698L584.2 457L585.7 706L586.3 465L587.4 708L589.1 426L590.6 696L591.5 467L592.7 702L594.7 463L596.1 720L596.9 453L598.1 744L600.1 474L601.2 768L602.3 475L603.4 750L605 457L606 739L607.4 461L608.5 761L609.8 461L610.9 776L612.5 454L613.5 768L615.6 457L617.1 751L617.5 455L618.8 752L620.9 445L622 779L623.3 458L624.6 747L625.5 468L626.8 712L628.3 472L629.6 708L630.7 476L631.8 711L633.3 475L634.5 677L636 475L637.5 692L638.1 472L639.3 714L641.2 473L642.5 724L644.3 475L645.8 730L646.2 458L647.3 727L649.2 484L650.7 734L651.5 478L652.8 752L653.9 477L655.4 757L657.2 486L658.4 760L658.9 481L660.2 765L661.8 472L663 767L665.1 483L666.6 749L667 485L668.5 717L670.1 480L671.5 735L672.5 477L674.1 737L675.3 461L676.7 740L677.7 482L679.2 765L680.1 412L681.6 764L683.1 492L684.2 754L684.9 478L686.5 753L687.9 479L689.2 777L690.5 478L691.8 773L693.2 508L694.3 754L695.4 508L696.9 758L698.1 524L699.3 748L701.1 540L702.5 762L703.5 527L704.6 800L706.5 504L707.7 804L708.9 546L710.1 781L711.8 543L712.9 810L714.2 541L715.3 778L716.7 545L718.2 765L719 537L720.6 759L722.1 540L723.2 730L724.2 539L725.2 756L726.6 541L727.8 783L730.1 535L731.1 771L732.2 541L733.6 769L735.1 535L736.3 775L737.4 501L738.8 765L740.1 543L741.7 803L742.1 558L743.7 791L744.9 555L746.4 768L748 543L749.5 756L750.5 534L751.8 781L752.7 541L754 782L756.1 540L757.1 781L757.9 538L758.9 787L760.8 524L762.1 816L763 533L764.6 795L766.2 532L767.5 799L768.4 528L769.4 822L770.8 496L772 790L773.3 520L774.8 801L776.1 527L777.2 793L778.7 544L779.8 791L781.6 554L782.8 775L784.2 545L785.5 787L787.3 545L788.8 788L789.9 516L791 809L792.3 520L793.7 756L794.8 487L796.1 775L797.5 523L798.8 784L800.2 535L801.6 780L801.9 538L803.4 765L804.6 541L805.7 770L807.5 525L808.8 775L809.8 516L810.9 759L812.9 531L814.2 839L815.2 535L816.6 819L817.8 536L819.4 768L820.4 542L821.7 759L822.8 555L824 761L826 542L827.4 771L828.6 543L829.8 766L831.1 539L832.2 760L833.1 547L834.4 783L836.1 546L837.6 775L839 518L840.5 784L841.1 499L842.6 840L843.9 546L845.1 801L846.1 549L847.3 776L848.8 537L849.8 855L851.5 531L852.8 796L854.3 553L855.8 821L857 547L858.1 807L860 542L861.5 807L862 543L863.4 784L864.3 540L865.4 787L867.7 537L869.1 794L869.6 545L871.1 839L872.2 538L873.8 750L875.7 552L876.8 775L878.1 552L879.5 770L880.2 541L881.7 782L882.6 548L883.8 758L885.5 543L886.7 798L888 532L889.6 773L891.2 527L892.4 775L893.3 553L894.5 784L895.6 555L897 770L899 555L900.1 782L901.3 555L902.6 818L903.4 557L904.6 781L906 555L907.3 802L909 538L910.3 784L911.2 557L912.6 764L914.3 553L915.6 765L916.9 551L918.4 772L918.9 534L920.4 768L922.3 537L923.9 753L924.9 554L926.2 753L927.6 501L929.1 774L930 541L931.2 777L932.6 520L933.8 803L934.7 510L936.1 858L937.1 541L938.7 770L939.8 497L941.2 808L943.3 541L944.4 769L945.5 536L946.7 744L948.4 551L949.9 753L950.4 546L951.9 788L953.5 534L955 746L955.4 514L956.5 776L958.1 547L959.6 749L960.8 530L962 759L963.7 544L964.8 780L966.3 558L967.5 798L968.8 581L970.4 786L971.3 556L972.9 749L974.1 551L975.1 730L977.1 552L978.3 762L979.2 550L980.6 777L982.1 536L983.2 743L984 536L985 728L986.9 547L987.9 761L989.7 553L991.2 773L992.3 559L993.5 775L994.6 545L995.7 782L997.3 548L998.8 786L1000.4 565L1001.6 769L1002.7 525L1004.2 786L1005.3 529L1006.5 795L1007.4 535L1008.5 813L1010 531L1011.2 757L1012.7 524L1013.8 778L1015.2 539L1016.3 795L1018.7 531L1020.2 785L1020.3 540L1021.8 850L1023.3 561L1024.5 785L1025.6 539L1027 785L1028.7 469L1030.3 779L1030.7 526L1032 837L1033.4 522L1034.8 770L1036 541L1037.4 798L1038.8 544L1039.8 791L1041.7 552L1042.8 803L1044.5 557L1046 775L1046.6 552L1048 790L1049.2 546L1050.3 787L1052.3 540L1053.8 796L1054.8 547L1056.3 823L1056.8 555L1058 869L1060.1 535L1061.3 775L1062.7 538L1063.8 797L1064.7 522L1065.9 866L1067.7 546L1068.8 797L1069.9 541L1071.2 829L1072.5 534L1073.9 800L1075.4 532L1076.7 797L1078 530L1079.1 803L1080.6 519L1082 824L1083.2 534L1084.7 788L1085.5 548L1086.6 819L1088.7 542L1090 812L1090.8 512L1092.3 799L1094 546L1095.1 833L1096.2 536L1097.8 800L1098.6 508L1100.2 801L1101.1 524L1102.5 801L1104 538L1105.5 779L1106.5 535L1107.6 754L1109.3 553L1110.7 836L1111.8 546L1113.4 787L1113.9 517L1115 788L1117.3 483L1118.8 774L1119.2 501L1120.3 769L1122.5 528L1124 774L1125.1 522L1126.5 767L1127.8 532L1129.3 766L1130.2 535L1131.4 771L1132.3 527L1133.5 747L1135.1 501L1136.7 776L1137.7 502L1138.8 765L1140.5 541L1141.6 763L1142.9 502L1144.5 765L1145.8 541L1147.3 763L1147.9 543L1149 777L1150.7 544L1152.2 789L1153.4 549L1154.6 794L1155.9 549L1157.5 774L1158.2 540L1159.8 794L1161.7 520L1162.7 761L1164 540L1165 789L1166.7 524L1167.9 774L1168.9 493L1170.4 787L1172 495L1173.5 769L1174.5 506L1175.7 750L1177.3 481L1178.8 747L1179.1 507L1180.3 775L1182 449L1183.2 733L1184.5 508L1185.6 737L1187.3 496L1188.9 747L1189.6 495L1191 786L1192 505L1193.3 812L1195 513L1196.1 795L1197.7 512L1199.3 751L1200.1 535L1201.3 775L1203.3 539L1204.4 773L1205.3 543L1206.6 775L1208.6 514L1208.8 761"/>
<path stroke="#00cccd" d="M185.8 565L187 893L189.2 560L190.4 829L191.2 560L192.8 857L193.9 560L195.5 789L196.9 560L198.3 772L199.1 523L200.3 812L201.8 429L203.3 718L203.9 411L205.1 684L207.3 403L208.4 680L209.6 391L211 694L212 348L213.3 673L215.1 331L216.3 648L217.2 316L218.8 644L220 314L221.1 607L222.2 283L223.6 549L225.1 252L226.1 517L227.5 279L228.6 529L230.2 255L231.3 544L233.3 278L234.8 514L235.4 298L236.8 541L238.2 301L239.7 545L241.3 298L242.3 543L243.9 283L245.3 545L246.2 312L247.5 511L248.6 293L249.9 560L251 263L252.4 478L253.5 318L254.6 560L256.9 314L258.2 556L259 234L260.2 607L261.2 308L262.5 574L264.3 331L265.6 604L267.1 345L268.2 569L269.5 390L270.7 594L272.4 250L273.7 581L274.1 398L275.4 615L277.2 412L278.7 640L279.8 398L281.1 643L282 353L283.3 610L285.1 390L286.7 644L288 370L289.1 623L290.3 362L291.4 609L292.6 383L293.8 643L295.7 378L296.8 628L298 376L299.3 633L300.6 321L302 631L303.5 387L304.5 630L305.4 383L306.9 602L308.7 403L310.1 631L311.2 385L312.4 619L313.9 337L315.4 618L315.9 381L317.4 613L319.1 393L320.2 615L321.1 390L322.2 658L323.6 325L325.1 616L327 373L328 632L329.6 355L331 621L332.2 407L333.4 643L334.4 393L335.6 650L336.8 393L338.1 551L339.1 374L340.7 617L342.3 398L343.3 598L345 387L346.1 547L347.7 387L349.2 633L349.8 385L351 630L352.3 413L353.5 625L355.3 361L356.9 637L358.1 373L359.3 692L360.9 384L362.3 652L362.7 349L364.2 658L365.6 376L367 657L368.6 387L370 669L370.7 400L372.2 675L373.5 410L375 680L375.5 375L376.7 668L378.8 400L380.1 671L381.6 395L383.1 665L384.1 401L385.7 652L386.8 410L388.3 668L389.2 375L390.7 692L391.3 358L392.4 689L394.5 379L395.7 718L396.5 397L397.8 702L399.7 399L401.3 722L401.6 395L402.8 696L404.9 404L406.1 713L406.9 395L407.9 703L409.7 427L410.8 719L412.2 386L413.7 735L415.2 428L416.2 702L417.3 377L418.4 725L420.1 433L421.3 733L422.3 443L423.6 722L425.2 444L426.4 701L427.9 450L429.5 736L430.2 428L431.3 741L433.3 466L434.7 709L435.7 459L437.1 724L438.6 450L440.2 709L441.2 464L442.7 747L443.5 468L444.6 708L446.6 480L448 700L448.9 498L450.3 700L451.7 429L453 695L453.8 453L454.9 717L456.6 477L457.7 726L458.9 482L460.3 685L462.3 415L463.3 665L464.1 463L465.3 728L466.8 465L467.9 688L469.2 482L470.6 718L472 450L473.2 714L475.1 470L476.1 693L477.6 452L478.8 687L479.6 466L480.8 675L482.5 472L483.9 675L485.1 458L486.3 713L488 433L489.4 702L490.4 461L491.7 725L493.1 479L494.6 734L495.9 427L497.4 686L498.4 472L499.7 713L500.7 429L502 686L503.3 443L504.6 716L505.9 479L507.4 626L508.2 469L509.3 703L510.9 483L512.2 696L513.6 477L514.9 701L516.2 488L517.5 693L518.8 483L520.2 686L521.7 498L523 710L524.7 496L525.9 692L527.1 484L528.5 691L529.7 505L530.9 697L532.3 517L533.6 707L534.7 460L536.1 718L537.6 497L538.7 722L540 496L541.2 680L542.4 482L544 681L544.6 496L546.2 714L547.6 480L549.2 731L549.9 498L550.9 743L552.4 455L553.9 734L555.4 480L557 718L558.3 492L559.8 711L560.4 510L561.8 728L563.5 509L564.9 724L565.8 511L567.3 696L568 501L569.4 726L571.5 493L572.9 724L573.5 469L574.8 723L576 484L577.1 728L579.1 493L580.2 675L581 452L582.6 650L584.2 479L585.7 730L586.3 417L587.4 748L589.1 476L590.6 651L591.5 499L592.7 728L594.7 471L596.1 695L596.9 435L598.1 727L600.1 494L601.2 718L602.3 432L603.4 745L605 470L606 731L607.4 429L608.5 752L609.8 484L610.9 742L612.5 412L613.5 732L615.6 490L617.1 743L617.5 499L618.8 760L620.9 485L622 746L623.3 490L624.6 731L625.5 496L626.8 688L628.3 493L629.6 753L630.7 458L631.8 704L633.3 479L634.5 712L636 451L637.5 728L638.1 436L639.3 732L641.2 493L642.5 728L644.3 432L645.8 793L646.2 488L647.3 734L649.2 481L650.7 721L651.5 479L652.8 732L653.9 486L655.4 689L657.2 471L658.4 750L658.9 478L660.2 764L661.8 457L663 742L665.1 445L666.6 673L667 494L668.5 752L670.1 477L671.5 751L672.5 461L674.1 743L675.3 460L676.7 751L677.7 492L679.2 749L680.1 468L681.6 775L683.1 480L684.2 732L684.9 499L686.5 751L687.9 498L689.2 789L690.5 441L691.8 725L693.2 485L694.3 733L695.4 441L696.9 729L698.1 502L699.3 690L701.1 491L702.5 683L703.5 441L704.6 685L706.5 507L707.7 699L708.9 503L710.1 697L711.8 503L712.9 706L714.2 482L715.3 661L716.7 403L718.2 733L719 441L720.6 759L722.1 477L723.2 711L724.2 429L725.2 721L726.6 492L727.8 707L730.1 498L731.1 685L732.2 475L733.6 718L735.1 453L736.3 710L737.4 475L738.8 713L740.1 467L741.7 762L742.1 395L743.7 710L744.9 481L746.4 711L748 472L749.5 712L750.5 462L751.8 707L752.7 437L754 709L756.1 465L757.1 683L757.9 391L758.9 707L760.8 480L762.1 722L763 485L764.6 715L766.2 464L767.5 733L768.4 465L769.4 714L770.8 391L772 691L773.3 446L774.8 713L776.1 471L777.2 695L778.7 480L779.8 745L781.6 480L782.8 705L784.2 473L785.5 738L787.3 495L788.8 730L789.9 454L791 723L792.3 498L793.7 710L794.8 503L796.1 703L797.5 493L798.8 713L800.2 498L801.6 750L801.9 490L803.4 758L804.6 498L805.7 709L807.5 508L808.8 711L809.8 449L810.9 709L812.9 454L814.2 698L815.2 509L816.6 682L817.8 521L819.4 685L820.4 510L821.7 663L822.8 485L824 684L826 460L827.4 694L828.6 446L829.8 677L831.1 459L832.2 666L833.1 482L834.4 691L836.1 458L837.6 694L839 448L840.5 698L841.1 480L842.6 700L843.9 480L845.1 684L846.1 440L847.3 692L848.8 477L849.8 739L851.5 493L852.8 730L854.3 491L855.8 708L857 494L858.1 651L860 438L861.5 713L862 497L863.4 709L864.3 481L865.4 659L867.7 475L869.1 689L869.6 472L871.1 708L872.2 427L873.8 692L875.7 441L876.8 730L878.1 478L879.5 708L880.2 424L881.7 725L882.6 492L883.8 710L885.5 412L886.7 715L888 503L889.6 779L891.2 437L892.4 750L893.3 506L894.5 736L895.6 480L897 733L899 458L900.1 738L901.3 484L902.6 743L903.4 499L904.6 691L906 408L907.3 732L909 509L910.3 736L911.2 404L912.6 770L914.3 490L915.6 735L916.9 511L918.4 741L918.9 366L920.4 718L922.3 518L923.9 697L924.9 404L926.2 701L927.6 520L929.1 719L930 505L931.2 719L932.6 478L933.8 695L934.7 488L936.1 709L937.1 429L938.7 712L939.8 499L941.2 688L943.3 515L944.4 637L945.5 494L946.7 677L948.4 441L949.9 690L950.4 505L951.9 730L953.5 478L955 663L955.4 494L956.5 742L958.1 472L959.6 715L960.8 518L962 692L963.7 514L964.8 709L966.3 504L967.5 715L968.8 496L970.4 752L971.3 498L972.9 648L974.1 517L975.1 704L977.1 497L978.3 705L979.2 484L980.6 703L982.1 489L983.2 712L984 487L985 723L986.9 476L987.9 718L989.7 449L991.2 711L992.3 478L993.5 715L994.6 486L995.7 718L997.3 494L998.8 714L1000.4 492L1001.6 695L1002.7 471L1004.2 746L1005.3 490L1006.5 699L1007.4 495L1008.5 731L1010 508L1011.2 726L1012.7 505L1013.8 728L1015.2 412L1016.3 701L1018.7 530L1020.2 698L1020.3 518L1021.8 720L1023.3 511L1024.5 732L1025.6 516L1027 692L1028.7 499L1030.3 684L1030.7 510L1032 725L1033.4 487L1034.8 651L1036 537L1037.4 636L1038.8 521L1039.8 707L1041.7 466L1042.8 676L1044.5 461L1046 610L1046.6 505L1048 690L1049.2 502L1050.3 686L1052.3 491L1053.8 684L1054.8 521L1056.3 692L1056.8 466L1058 698L1060.1 521L1061.3 642L1062.7 536L1063.8 748L1064.7 527L1065.9 681L1067.7 453L1068.8 724L1069.9 538L1071.2 704L1072.5 523L1073.9 675L1075.4 508L1076.7 768L1078 501L1079.1 718L1080.6 515L1082 729L1083.2 533L1084.7 749L1085.5 522L1086.6 759L1088.7 508L1090 671L1090.8 473L1092.3 792L1094 466L1095.1 720L1096.2 490L1097.8 721L1098.6 508L1100.2 731L1101.1 514L1102.5 775L1104 515L1105.5 752L1106.5 509L1107.6 729L1109.3 509L1110.7 713L1111.8 503L1113.4 736L1113.9 510L1115 724L1117.3 516L1118.8 706L1119.2 517L1120.3 729L1122.5 449L1124 740L1125.1 465L1126.5 722L1127.8 452L1129.3 726L1130.2 473L1131.4 749L1132.3 482L1133.5 731L1135.1 433L1136.7 728L1137.7 506L1138.8 715L1140.5 513L1141.6 724L1142.9 501L1144.5 781L1145.8 463L1147.3 743L1147.9 490L1149 744L1150.7 496L1152.2 818L1153.4 511L1154.6 762L1155.9 518L1157.5 764L1158.2 515L1159.8 761L1161.7 466L1162.7 804L1164 427L1165 796L1166.7 475L1167.9 810L1168.9 505L1170.4 748L1172 500L1173.5 752L1174.5 467L1175.7 774L1177.3 443L1178.8 784L1179.1 524L1180.3 750L1182 535L1183.2 742L1184.5 524L1185.6 731L1187.3 491L1188.9 699L1189.6 511L1191 712L1192 489L1193.3 730L1195 472L1196.1 716L1197.7 506L1199.3 739L1200.1 480L1201.3 754L1203.3 454L1204.4 729L1205.3 483L1206.6 695L1208.6 508L1208.8 753"/>

</g>
<g id="axes" filter="url(#soft2)">
<path d="M178.6 125 V1166.5 M176.8 1164.7 H1468.6" stroke="#000" stroke-width="3.6" fill="none"/>
<path d="M157 126.7 H178 M157 334.3 H178 M157 541.9 H178 M157 749.5 H178 M157 957.1 H178 M157 1164.7 H178 M167.6 230.5 H178 M167.6 438.1 H178 M167.6 645.7 H178 M167.6 853.3 H178 M167.6 1060.9 H178 M179.0 1165 V1185.4 M693.3 1165 V1185.4 M1209.0 1165 V1185.4 M435.6 1165 V1175.2 M951.2 1165 V1175.2 M1466.9 1165 V1175.2" stroke="#000" stroke-width="3.3" fill="none"/>
<text transform="translate(0 144.3) scale(1 1.135)" x="77.4 99.5 121.6" y="0" font-size="41">550</text>
<text transform="translate(0 351.9) scale(1 1.135)" x="77.4 99.5 121.6" y="0" font-size="41">500</text>
<text transform="translate(0 559.5) scale(1 1.135)" x="77.4 99.5 121.6" y="0" font-size="41">450</text>
<text transform="translate(0 767.1) scale(1 1.135)" x="77.4 99.5 121.6" y="0" font-size="41">400</text>
<text transform="translate(0 974.7) scale(1 1.135)" x="77.4 99.5 121.6" y="0" font-size="41">350</text>
<text transform="translate(0 1182.3) scale(1 1.135)" x="77.4 99.5 121.6" y="0" font-size="41">300</text>
<text transform="translate(0 1237.2) scale(1 1.135)" x="168.8" y="0" font-size="41">0</text>
<text transform="translate(0 1237.2) scale(1 1.135)" x="627.8 649.9 672.2 694.1 716.2 738.3" y="0" font-size="41">50,000</text>
<text transform="translate(0 1237.2) scale(1 1.135)" x="1132.5 1154.5 1176.7 1199.0 1220.9 1243.0 1265.0" y="0" font-size="41">100,000</text>
<text transform="translate(58.6 727.5) rotate(-90) scale(1 1.200)" x="-2.0 31.2 51.2 85.2 112.1 138.2" y="0" font-size="47">Number</text>
<text transform="translate(0 1308.6) scale(1 1.200)" x="699.1 731.5 747.2 783.1 813.1 843.2 864.2 892.4 919.2" y="0" font-size="47">Time (ps)</text>
<rect x="1249.2" y="18.3" width="472.4" height="422.7" fill="#fff" stroke="#6e6e6e" stroke-width="1.6"/>
<path d="M1255 52.2 H1364.7" stroke="#555555" stroke-width="1.6"/>
<text transform="translate(0 71.8) scale(1 1.200)" x="1393.2 1420.2 1451.0 1468.8 1490.7" y="0" font-size="47">0v/nm</text>
<path d="M1255 111.5 H1364.7" stroke="#fd4242" stroke-width="2.0"/>
<text transform="translate(0 131.1) scale(1 1.200)" x="1393.2 1426.1 1447.2 1473.5 1501.2 1528.2 1559.0 1576.8 1598.7" y="0" font-size="47">y 0.5v/nm</text>
<path d="M1255 170.8 H1364.7" stroke="#056ade" stroke-width="3.0"/>
<text transform="translate(0 190.4) scale(1 1.200)" x="1394.6 1426.1 1447.2 1473.5 1501.2 1528.2 1559.0 1576.8 1598.7" y="0" font-size="47">z 0.5v/nm</text>
<path d="M1255 230.1 H1364.7" stroke="#06a964" stroke-width="1.8"/>
<text transform="translate(0 249.7) scale(1 1.200)" x="1393.2 1420.2 1453.1 1474.2 1500.5 1528.2 1555.2 1582.2 1609.2 1640.0 1657.8 1679.7" y="0" font-size="47">xy 0.354v/nm</text>
<path d="M1255 289.4 H1364.7" stroke="#c872e1" stroke-width="2.2"/>
<text transform="translate(0 309.0) scale(1 1.200)" x="1393.2 1421.6 1453.1 1474.2 1500.5 1528.2 1555.2 1586.0 1603.8 1625.7" y="0" font-size="47">xz 0.5v/nm</text>
<path d="M1255 348.7 H1364.7" stroke="#dda000" stroke-width="3.0"/>
<text transform="translate(0 368.3) scale(1 1.200)" x="1393.2 1421.6 1453.1 1474.2 1500.5 1528.2 1555.2 1586.0 1603.8 1625.7" y="0" font-size="47">yz 0.5v/nm</text>
<path d="M1255 408.0 H1364.7" stroke="#00cccd" stroke-width="2.6"/>
<text transform="translate(0 427.6) scale(1 1.200)" x="1393.2 1420.2 1448.6 1480.1 1501.2 1527.5 1555.2 1582.2 1613.0 1630.8 1652.7" y="0" font-size="47">xyz 0.5v/nm</text>
</g>
</svg>
</body>
</html>
